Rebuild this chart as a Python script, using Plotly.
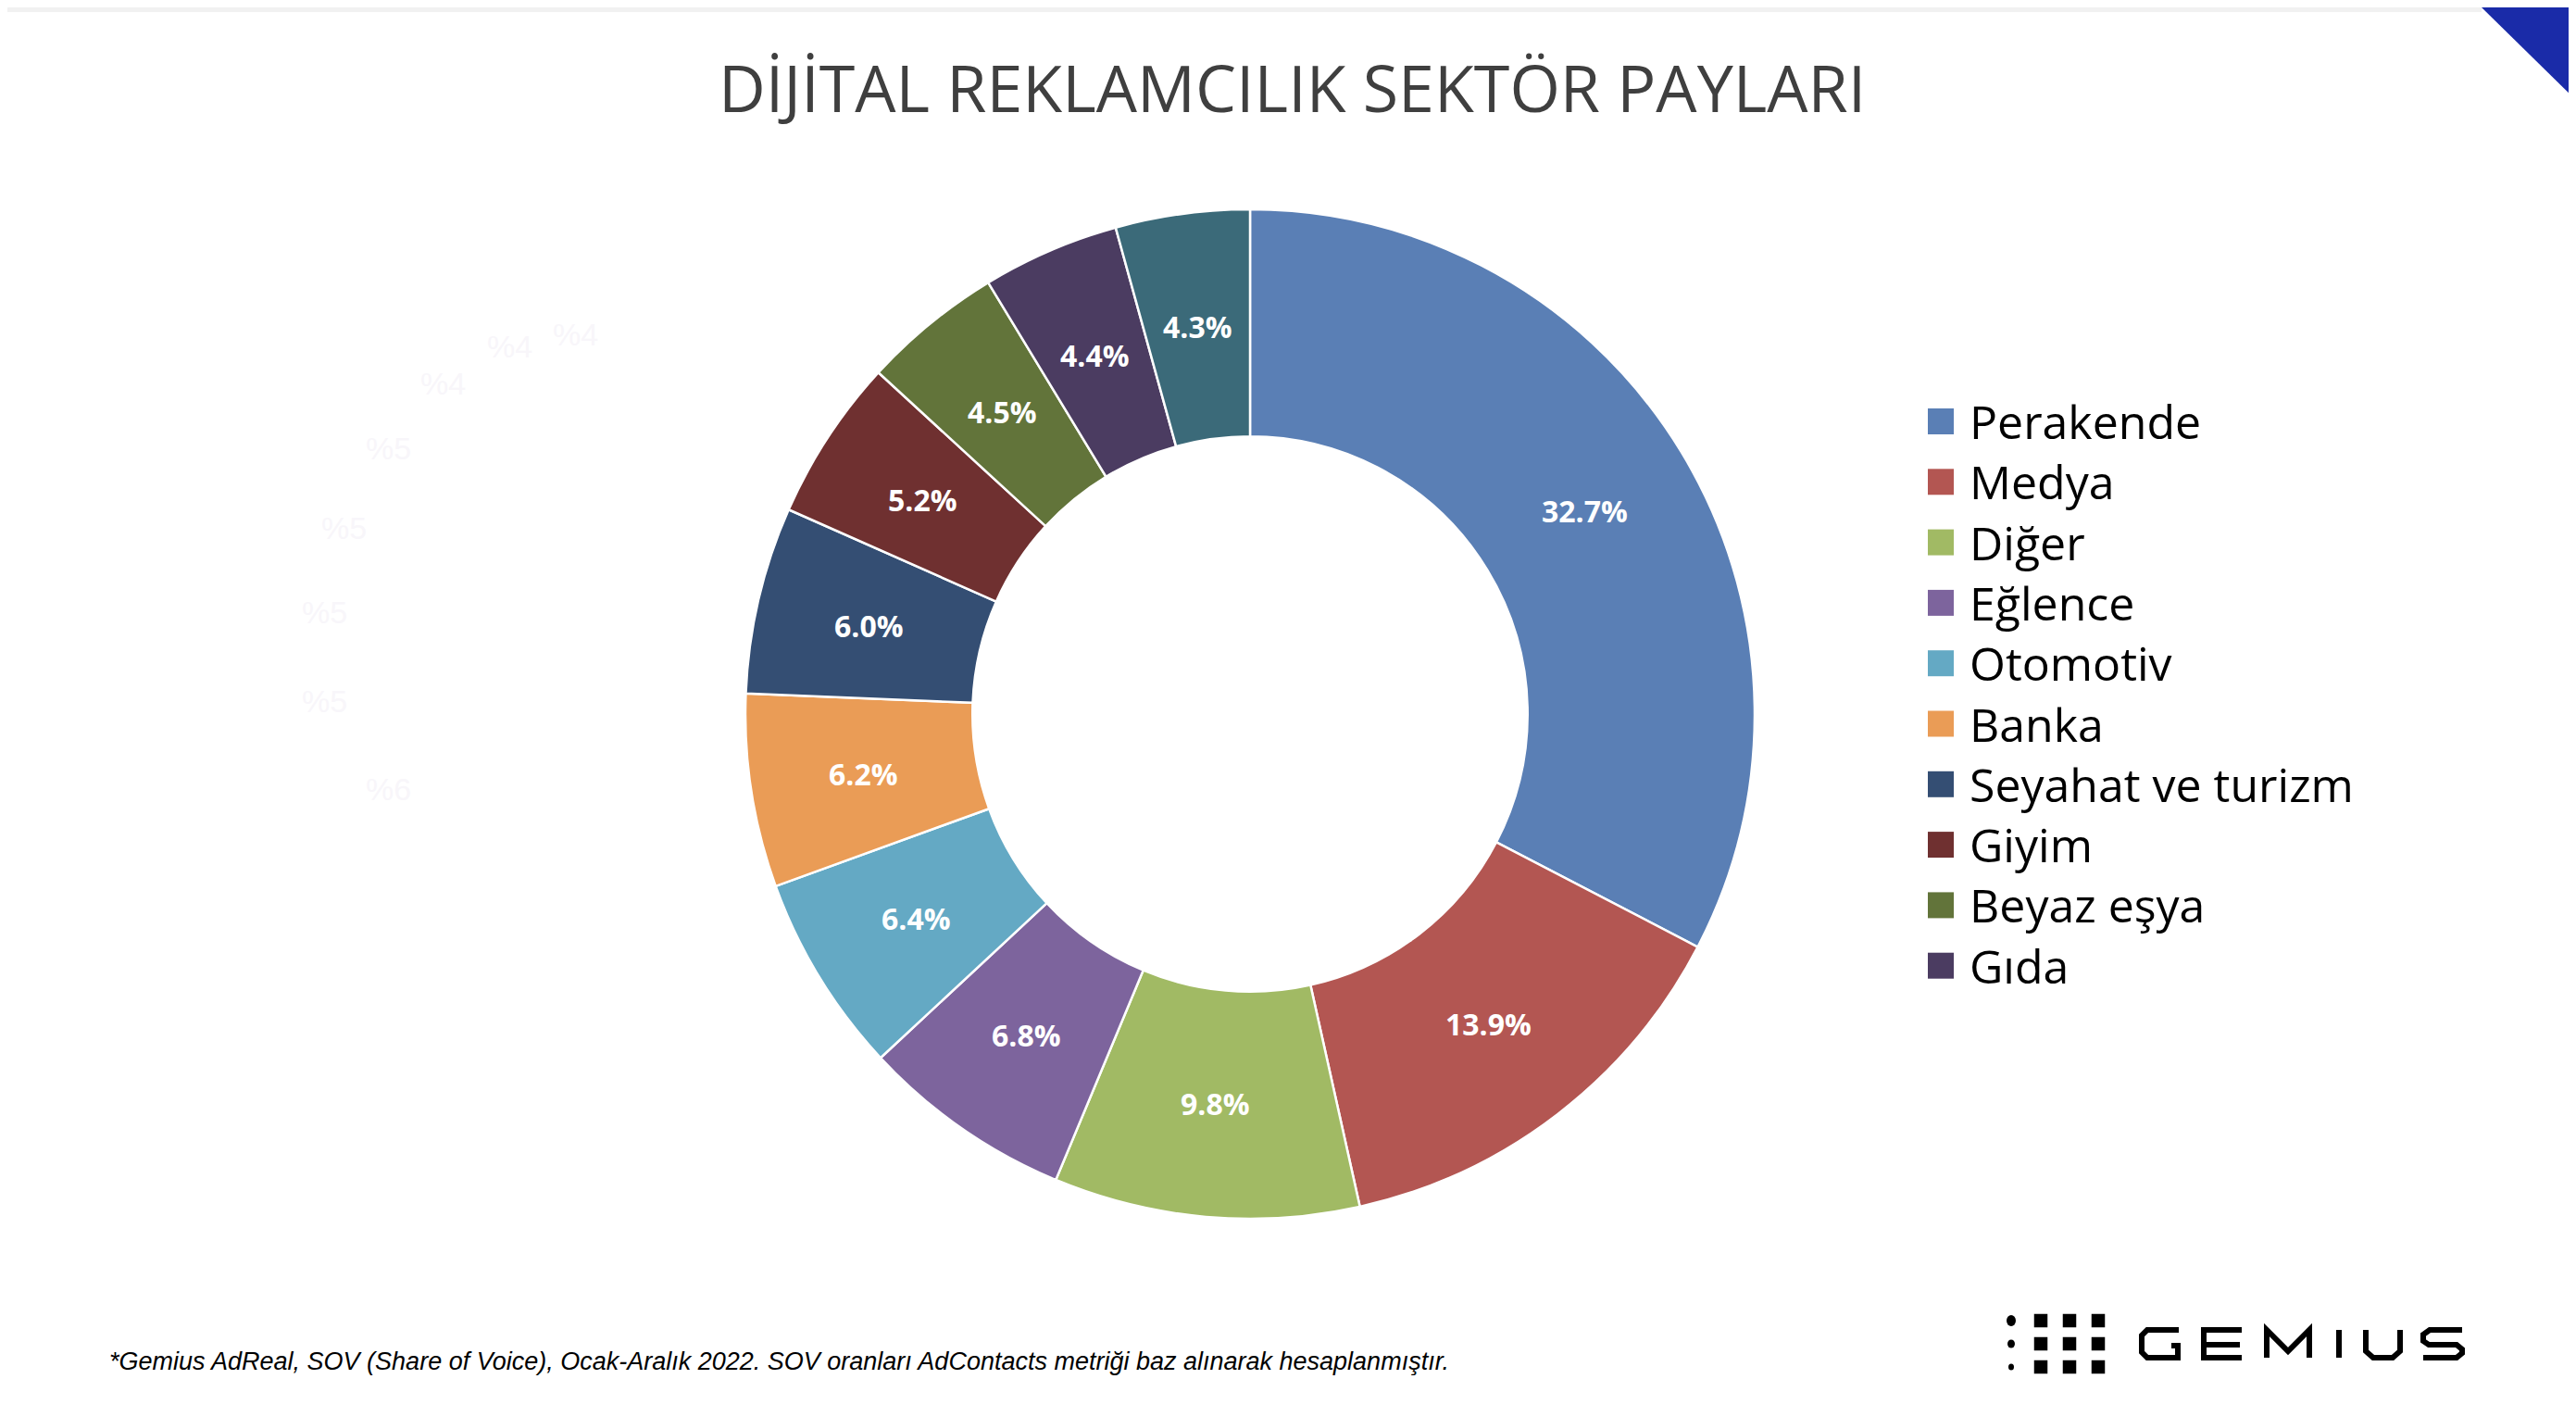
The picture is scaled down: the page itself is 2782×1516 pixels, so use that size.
import math
import plotly.graph_objects as go

W, H = 2782, 1516

# ---- data ----
categories = ["Perakende", "Medya", "Diğer", "Eğlence", "Otomotiv", "Banka",
              "Seyahat ve turizm", "Giyim", "Beyaz eşya", "Gıda", "Kategori 11"]
shares = [32.7, 13.9, 9.8, 6.8, 6.4, 6.2, 6.0, 5.2, 4.5, 4.4, 4.3]
colors = ["#5A7FB5", "#B35652", "#A1BA64", "#7D649D", "#64A9C4", "#EA9C56",
          "#344E73", "#6F3030", "#62743A", "#4B3C61", "#3B6A79"]
legend_labels = categories[:10]

title_text = "DİJİTAL REKLAMCILIK SEKTÖR PAYLARI"
footnote_text = ("*Gemius AdReal, SOV (Share of Voice), Ocak-Aralık 2022. SOV oranları "
                 "AdContacts metriği baz alınarak hesaplanmıştır.")
ghost_labels = ["%4", "%4", "%4", "%5", "%5", "%5", "%5", "%6"]


def px(x):
    return x / W


def py(y):
    return 1 - y / H


cx, cy, R = 1342, 763, 545
HOLE = 0.55

fig = go.Figure()
fig.add_trace(go.Pie(
    labels=categories, values=shares, sort=False, direction="clockwise",
    rotation=0, hole=HOLE,
    marker=dict(colors=colors, line=dict(color="white", width=2.5)),
    textinfo="none",
    domain=dict(x=[px(cx - R), px(cx + R)], y=[py(cy + R), py(cy - R)]),
    showlegend=False,
))

annotations = []
shapes = []

# slice value labels at mid-radius of each slice (computed from the data)
total = sum(shares)
r_mid = R * (1 + HOLE) / 2
cum = 0.0
for v in shares:
    theta = 2 * math.pi * (cum + v / 2) / total
    cum += v
    lx_ = cx + r_mid * math.sin(theta)
    ly_ = cy - r_mid * math.cos(theta)
    annotations.append(dict(text=f"<b>{v:.1f}%</b>", x=px(lx_), y=py(ly_),
                            xref="paper", yref="paper", showarrow=False,
                            xanchor="center", yanchor="middle",
                            font=dict(family="Open Sans", size=32, color="white")))

# title
annotations.append(dict(text=title_text, x=px(1387), y=py(86), xref="paper", yref="paper",
                        showarrow=False, xanchor="center", yanchor="middle",
                        font=dict(family="Open Sans", size=70, color="#3F3F3F")))

# manual legend (first 10 categories)
lx, ly0, dy = 2074, 447, 65.3
for i, lab in enumerate(legend_labels):
    y = ly0 + i * dy
    shapes.append(dict(type="rect", xref="paper", yref="paper",
                       x0=px(lx), x1=px(lx + 28), y0=py(y - 14), y1=py(y + 14),
                       fillcolor=colors[i], line=dict(width=0)))
    annotations.append(dict(text=lab, x=px(2117), y=py(y), xref="paper", yref="paper",
                            showarrow=False, xanchor="left", yanchor="middle",
                            font=dict(family="Open Sans", size=50, color="#000000")))

# footnote
annotations.append(dict(text="<i>" + footnote_text + "</i>", x=px(108), y=py(1462),
                        xref="paper", yref="paper", showarrow=False,
                        xanchor="left", yanchor="middle",
                        font=dict(family="Liberation Sans", size=27, color="#000000")))

# ghost labels (very faint)
ghost_pos = [(613, 353), (542, 366), (470, 406), (411, 476), (364, 562),
             (342, 653), (342, 749), (411, 844)]
for t, (gx, gy) in zip(ghost_labels, ghost_pos):
    annotations.append(dict(text=t, x=px(gx), y=py(gy), xref="paper", yref="paper",
                            showarrow=False, xanchor="center", yanchor="middle",
                            font=dict(family="Liberation Sans", size=34, color="#F8F6FA")))

# top-right blue triangle
shapes.append(dict(type="path", xref="paper", yref="paper",
                   path=f"M {px(2672)} {py(0)} L {px(2782)} {py(0)} L {px(2782)} {py(108)} Z",
                   fillcolor="#1A2BA8", line=dict(width=0)))
# faint top shadow
shapes.append(dict(type="rect", xref="paper", yref="paper", x0=0, x1=px(2672),
                   y0=py(5), y1=1, fillcolor="#F1F1F1", line=dict(width=0), layer="below"))

# GEMIUS logo: dots
dot_cols = [2164, 2196, 2227, 2258]
dot_rows = [1418, 1443, 1468]
small = [(10, 12), (8, 9), (6, 7)]
for ri, ry in enumerate(dot_rows):
    for ci, dx in enumerate(dot_cols):
        if ci == 0:
            w, h = small[ri]
            shapes.append(dict(type="circle", xref="paper", yref="paper",
                               x0=px(dx - w / 2), x1=px(dx + w / 2),
                               y0=py(ry + h / 2), y1=py(ry - h / 2),
                               fillcolor="black", line=dict(width=0)))
        else:
            w, h = 12, 12
            shapes.append(dict(type="rect", xref="paper", yref="paper",
                               x0=px(dx - w / 2), x1=px(dx + w / 2),
                               y0=py(ry + h / 2), y1=py(ry - h / 2),
                               fillcolor="black", line=dict(color="black", width=2.5)))

# GEMIUS letters drawn as strokes
sw = 6
top, bot = 1428, 1458
mid = (top + bot) / 2


def stroke(points):
    p = " ".join(("M" if k == 0 else "L") + f" {px(x)} {py(y)}" for k, (x, y) in enumerate(points))
    shapes.append(dict(type="path", xref="paper", yref="paper", path=p,
                       line=dict(color="black", width=sw)))


# G
stroke([(2345, top), (2311, top), (2305, top + 6), (2305, bot - 6), (2311, bot),
        (2344, bot), (2344, mid + 2), (2337, mid + 2)])
# E
stroke([(2413, top), (2372, top), (2372, bot), (2413, bot)])
stroke([(2372, mid + 1), (2411, mid + 1)])
# M
stroke([(2440, bot), (2440, top), (2463, mid + 8), (2486, top), (2486, bot)])
# I
stroke([(2518, top), (2518, bot)])
# U
stroke([(2547, top), (2547, bot - 7), (2555, bot), (2576, bot), (2584, bot - 7), (2584, top)])
# S
stroke([(2651, top), (2616, top), (2609, top + 5), (2609, mid - 3), (2615, mid + 1),
        (2645, mid + 1), (2651, mid + 6), (2651, bot - 5), (2645, bot), (2609, bot)])

fig.update_layout(
    width=W, height=H, margin=dict(l=0, r=0, t=0, b=0),
    paper_bgcolor="white", plot_bgcolor="white",
    annotations=annotations, shapes=shapes,
)

fig.write_html("out.html")
